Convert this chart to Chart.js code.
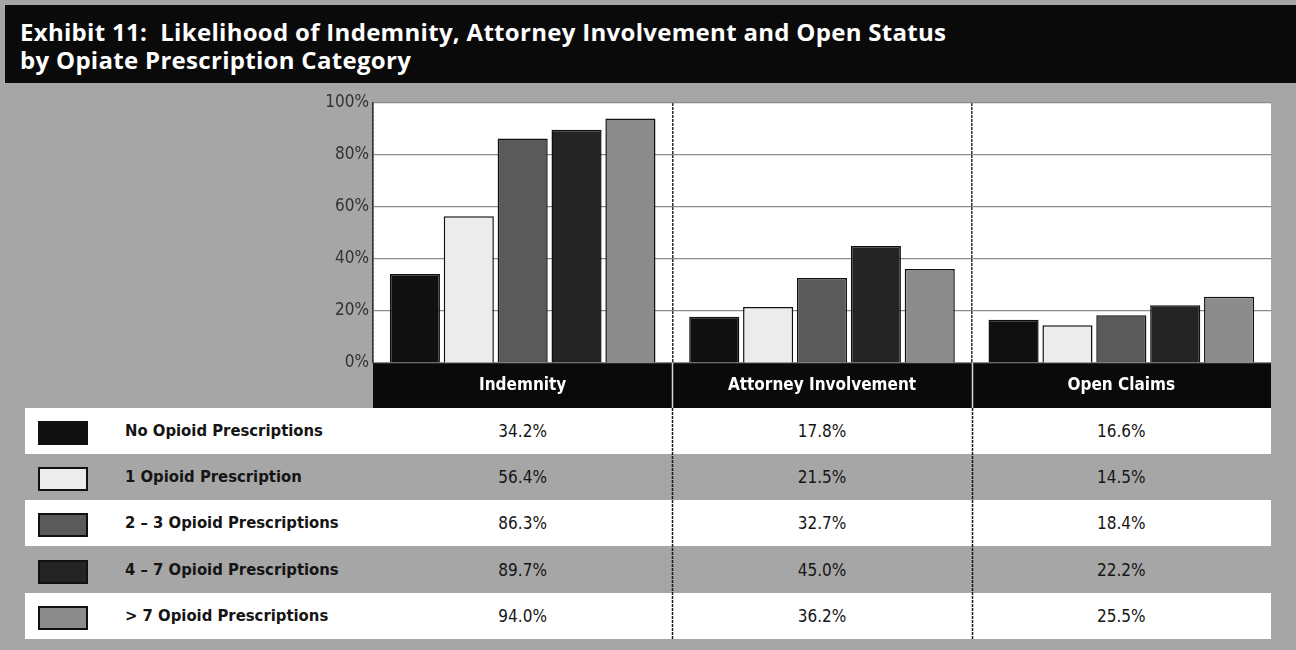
<!DOCTYPE html>
<html>
<head>
<meta charset="utf-8">
<title>Exhibit 11</title>
<script src="https://cdn.jsdelivr.net/npm/chart.js@4.4.0/dist/chart.umd.min.js"></script>
<style>
  body {
    margin: 0;
    width: 1296px;
    height: 650px;
    background: #a6a6a6;
    position: relative;
    overflow: hidden;
    font-family: 'Liberation Sans Narrow', 'DejaVu Sans Condensed', sans-serif;
  }
  .title {
    position: absolute;
    left: 5px;
    top: 5px;
    width: 1291px;
    height: 78px;
    box-sizing: border-box;
    padding: 13px 0 0 15px;
    background: #0a0a0a;
    color: #fff;
    font: bold 24px 'Open Sans', sans-serif;
    letter-spacing: 0.3px;
    line-height: 28px;
  }
  .row {
    position: absolute;
    left: 25px;
    width: 1246px;
    height: 46px;
  }
  .row.white { background: #fff; }
  .swatch {
    position: absolute;
    left: 13px;
    top: 13px;
    width: 50px;
    height: 24px;
    box-sizing: border-box;
    border: 2px solid #111;
  }
  .label {
    position: absolute;
    left: 100px;
    top: 0;
    line-height: 46px;
    font-size: 16.5px;
    font-weight: bold;
    color: #151515;
  }
  .val {
    position: absolute;
    top: 0;
    line-height: 46px;
    font-size: 17px;
    color: #151515;
    transform: translateX(-50%);
  }
  #chart { position: absolute; left: 0; top: 0; }
</style>
</head>
<body>
<div class="title">Exhibit 11:&nbsp; Likelihood of Indemnity, Attorney Involvement and Open Status<br>by Opiate Prescription Category</div>
<div id="table"></div>
<canvas id="chart" width="1296" height="650"></canvas>

<script>
// categories along the x axis
const categories = ['Indemnity', 'Attorney Involvement', 'Open Claims'];

// series (percent of claims)
const seriesNames = [
    'No Opioid Prescriptions',
    '1 Opioid Prescription',
    '2 \u2013 3 Opioid Prescriptions',
    '4 \u2013 7 Opioid Prescriptions',
    '> 7 Opioid Prescriptions'
];
const noOpioid = [34.2, 17.8, 16.6];
const oneOpioid = [56.4, 21.5, 14.5];
const twoToThree = [86.3, 32.7, 18.4];
const fourToSeven = [89.7, 45.0, 22.2];
const overSeven = [94.0, 36.2, 25.5];

// y axis ticks
const yTicks = [0, 20, 40, 60, 80, 100];

const seriesValues = [noOpioid, oneOpioid, twoToThree, fourToSeven, overSeven];
const seriesColors = ['#101010', '#ececec', '#5a5a5a', '#242424', '#8c8c8c'];

const rowTop = 408;
const rowHeight = 46.2;
const tableBottom = rowTop + rowHeight * seriesNames.length;

const panelPlugin = {
    id: 'panel',
    beforeDraw(chart) {
        const { ctx, chartArea: a, scales: { x } } = chart;
        ctx.save();
        ctx.fillStyle = '#ffffff';
        ctx.fillRect(a.left, a.top, a.right - a.left, a.bottom - a.top);
        ctx.fillStyle = '#0a0a0a';
        ctx.fillRect(a.left, a.bottom, a.right - a.left, x.bottom - a.bottom);
        ctx.restore();
    },
    afterDraw(chart) {
        const { ctx, chartArea: a, scales: { x } } = chart;
        ctx.save();
        for (let i = 1; i < categories.length; i++) {
            const px = Math.round((x.getPixelForValue(i - 1) + x.getPixelForValue(i)) / 2) + 0.5;
            ctx.strokeStyle = '#d8d8d8';
            ctx.lineWidth = 1.5;
            ctx.beginPath();
            ctx.moveTo(px, a.bottom);
            ctx.lineTo(px, x.bottom);
            ctx.stroke();

            ctx.strokeStyle = '#1a1a1a';
            ctx.lineWidth = 1.5;
            ctx.setLineDash([3, 1]);
            ctx.beginPath();
            ctx.moveTo(px, x.bottom);
            ctx.lineTo(px, tableBottom);
            ctx.stroke();
            ctx.setLineDash([]);
        }
        ctx.restore();
    }
};

const chart = new Chart(document.querySelector('#chart').getContext('2d'), {
    type: 'bar',
    data: {
        labels: categories,
        datasets: seriesNames.map((name, i) => ({
            label: name,
            data: seriesValues[i],
            backgroundColor: seriesColors[i],
            borderColor: '#111111',
            borderWidth: 1.5,
            categoryPercentage: 0.9,
            barPercentage: 0.93
        }))
    },
    options: {
        responsive: false,
        animation: false,
        layout: {
            padding: { left: 313, top: 103, right: 25, bottom: 242 }
        },
        plugins: {
            legend: { display: false },
            tooltip: { enabled: false }
        },
        scales: {
            x: {
                afterFit: (scale) => { scale.height = 45; },
                grid: {
                    // the closing line on the right edge has no tick: leave it out
                    color: (c) => c.tick ? '#2a2a2a' : 'rgba(0,0,0,0)',
                    lineWidth: 1.5,
                    drawTicks: false
                },
                border: { display: false, dash: [3, 1] },
                ticks: {
                    color: '#ffffff',
                    padding: 12,
                    font: { family: "'Liberation Sans Narrow', 'DejaVu Sans Condensed', sans-serif", size: 17, weight: 'bold' }
                }
            },
            y: {
                min: 0,
                max: 100,
                afterFit: (scale) => { scale.width = 60; },
                afterBuildTicks: (scale) => { scale.ticks = yTicks.map(v => ({ value: v })); },
                grid: {
                    color: '#8a8a8a',
                    lineWidth: 1.2,
                    drawTicks: false
                },
                border: { display: true, color: '#333333', width: 1.5 },
                ticks: {
                    color: '#333333',
                    padding: 4,
                    callback: (v) => v + '%',
                    font: { family: "'Liberation Sans Narrow', 'DejaVu Sans Condensed', sans-serif", size: 17 }
                }
            }
        }
    },
    plugins: [panelPlugin]
});

// data table under the chart, columns aligned on the x scale
const table = document.querySelector('#table');
const xScale = chart.scales.x;
seriesNames.forEach((name, i) => {
    const row = document.createElement('div');
    row.className = 'row' + (i % 2 === 0 ? ' white' : '');
    row.style.top = (rowTop + i * rowHeight) + 'px';

    const swatch = document.createElement('div');
    swatch.className = 'swatch';
    swatch.style.background = seriesColors[i];
    row.appendChild(swatch);

    const label = document.createElement('div');
    label.className = 'label';
    label.textContent = name;
    row.appendChild(label);

    seriesValues[i].forEach((v, j) => {
        const cell = document.createElement('div');
        cell.className = 'val';
        cell.style.left = (xScale.getPixelForValue(j) - 25) + 'px';
        cell.textContent = v.toFixed(1) + '%';
        row.appendChild(cell);
    });
    table.appendChild(row);
});
</script>
</body>
</html>
